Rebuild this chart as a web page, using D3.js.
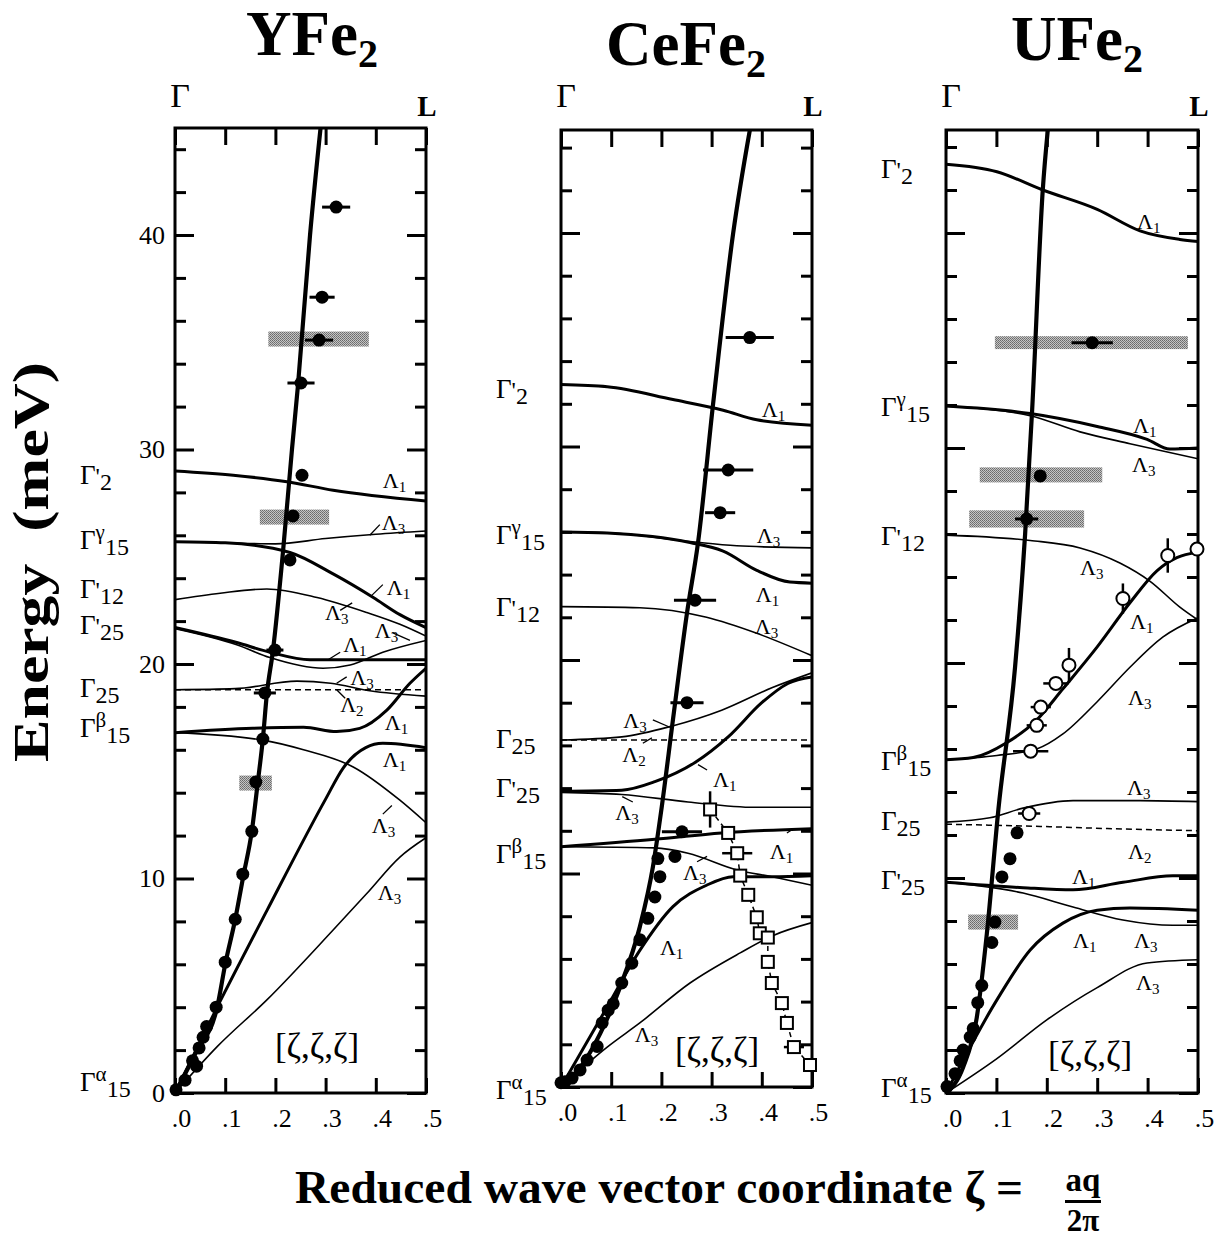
<!DOCTYPE html>
<html lang="en">
<head>
<meta charset="UTF-8">
<title>Phonon dispersion: YFe2, CeFe2, UFe2</title>
<script src="https://d3js.org/d3.v7.min.js"></script>
<style>
  body { margin: 0; background: #fff; }
  svg text { font-family: "Liberation Serif", "Times New Roman", serif; fill: #000; }
</style>
</head>
<body>
<div id="chart"></div>
<script>
// ---- axis values ----
const compounds = ["YFe2", "CeFe2", "UFe2"];
const zetaTicks = [0, 0.1, 0.2, 0.3, 0.4, 0.5];
const zetaTickLabels = [".0", ".1", ".2", ".3", ".4", ".5"];
const energyMajorTicks = [0, 10, 20, 30, 40];
const energyMinorTicks = [2, 4, 6, 8, 12, 14, 16, 18, 22, 24, 26, 28, 32, 34, 36, 38, 42, 44];

// ---- YFe2 ----
const yfe2Sound = [[0,0],[0.042,1.9],[0.084,4.0],[0.10,6.0],[0.12,8.1],[0.136,10.1],[0.153,12.2],[0.165,14.5],
  [0.175,16.5],[0.183,18.6],[0.195,20.6],[0.215,25.2],[0.233,30],[0.245,33],[0.269,40],[0.29,45]];
const yfe2Branches = [
  { sym: "1", pts: [[0,29.0],[0.116,28.8],[0.223,28.5],[0.315,28.1],[0.5,27.6]] },
  { sym: "3", pts: [[0,25.7],[0.1,25.65],[0.2,25.6],[0.3,25.85],[0.4,26.05],[0.5,26.2]] },
  { sym: "1", pts: [[0,25.7],[0.1,25.65],[0.229,25.2],[0.315,24.2],[0.395,23.1],[0.448,22.3],[0.5,21.7]] },
  { sym: "3", pts: [[0,23.0],[0.09,23.3],[0.183,23.5],[0.283,23.1],[0.382,22.4],[0.448,21.85],[0.5,21.3]] },
  { sym: "1", pts: [[0,21.7],[0.123,21.0],[0.189,20.55],[0.269,20.2],[0.388,20.2],[0.5,20.2]] },
  { sym: "3", pts: [[0,21.65],[0.123,20.9],[0.189,20.3],[0.295,19.8],[0.349,19.95],[0.414,20.55],[0.5,21.1]] },
  { sym: "3", pts: [[0,18.8],[0.12,18.85],[0.243,19.2],[0.31,19.1],[0.388,18.75],[0.5,18.5]] },
  { sym: "2", pts: [[0,18.8],[0.5,18.8]] },
  { sym: "1", pts: [[0,16.8],[0.155,17.0],[0.256,17.05],[0.322,16.85],[0.368,17.0],[0.422,17.85],[0.468,19.1],[0.5,19.8]] },
  { sym: "3", pts: [[0,16.8],[0.175,16.45],[0.256,16.0],[0.355,15.2],[0.448,13.65],[0.5,12.6]] },
  { sym: "1", pts: [[0,0],[0.084,4.0],[0.183,8.5],[0.30,13.7],[0.335,15.15],[0.38,16.1],[0.414,16.3],[0.5,16.1]] },
  { sym: "3", pts: [[0,0],[0.084,2.16],[0.183,4.34],[0.315,7.6],[0.382,9.3],[0.448,11.0],[0.5,11.9]] }
];
// [zeta, E, zeta error]
const yfe2Dots = [[0.002,0.15,0],[0.02,0.6,0],[0.035,1.5,0],[0.043,1.25,0],[0.048,2.1,0],[0.056,2.6,0],[0.063,3.1,0],
  [0.082,4.0,0],[0.10,6.1,0],[0.12,8.1,0],[0.135,10.2,0],[0.153,12.2,0],[0.161,14.5,0],[0.175,16.5,0],
  [0.179,18.65,0.022],[0.199,20.65,0.017],[0.229,24.85,0],[0.235,26.9,0],[0.253,28.8,0],[0.251,33.1,0.027],
  [0.287,35.1,0.028],[0.293,37.1,0.025],[0.321,41.3,0.028]];
// [zeta from, zeta to, E low, E high]
const yfe2Bands = [[0.169,0.307,26.5,27.2],[0.186,0.386,34.8,35.5],[0.128,0.193,14.1,14.8]];
const yfe2Gammas = [{sup:"'",sub:"2",E:28.8},{sup:"γ",sub:"15",E:25.8},{sup:"'",sub:"12",E:23.5},{sup:"'",sub:"25",E:21.8},
  {sup:"",sub:"25",E:18.9},{sup:"β",sub:"15",E:17.0},{sup:"α",sub:"15",E:0.5}];
const yfe2Lambdas = [
  {sub:"1", at:[0.414,28.2]},
  {sub:"3", at:[0.412,26.25], hook:[[0.388,26.0],[0.408,26.5]]},
  {sub:"1", at:[0.422,23.2], hook:[[0.392,23.2],[0.414,23.7]]},
  {sub:"3", at:[0.299,22.05], hook:[[0.329,22.5],[0.353,22.85]]},
  {sub:"3", at:[0.398,21.2], hook:[[0.434,21.45],[0.468,21.1]]},
  {sub:"1", at:[0.335,20.55], hook:[[0.305,20.2],[0.329,20.55]]},
  {sub:"3", at:[0.349,19.0], hook:[[0.322,19.1],[0.342,19.4]]},
  {sub:"2", at:[0.329,17.75], hook:[[0.322,18.8],[0.339,18.4]]},
  {sub:"1", at:[0.418,16.9]},
  {sub:"1", at:[0.414,15.2]},
  {sub:"3", at:[0.392,12.1], hook:[[0.432,13.4],[0.414,13.0]]},
  {sub:"3", at:[0.404,9.0]}
];

// ---- CeFe2 ----
const cefe2Sound = [[0,0],[0.038,0.9],[0.078,2.5],[0.118,4.7],[0.157,7.5],[0.183,10.3],[0.2,13.0],[0.223,17.2],
  [0.251,22.2],[0.273,25.5],[0.303,32.0],[0.343,40.0],[0.376,44.8]];
const cefe2Branches = [
  { sym: "1", pts: [[0,32.9],[0.092,32.8],[0.223,32.2],[0.323,31.7],[0.39,31.25],[0.5,31.0]] },
  { sym: "1", pts: [[0,26.0],[0.092,25.95],[0.257,25.5],[0.323,25.1],[0.39,24.2],[0.456,23.65],[0.5,23.6]] },
  { sym: "3", pts: [[0,26.0],[0.1,25.95],[0.257,25.55],[0.35,25.35],[0.5,25.25]] },
  { sym: "3", pts: [[0,22.5],[0.157,22.45],[0.29,22.0],[0.39,21.25],[0.5,20.2]] },
  { sym: "3", pts: [[0,16.25],[0.121,16.4],[0.22,16.9],[0.32,17.65],[0.42,18.7],[0.5,19.4]] },
  { sym: "2", pts: [[0,16.25],[0.5,16.25]] },
  { sym: "1", pts: [[0,13.85],[0.121,13.9],[0.187,14.3],[0.267,15.2],[0.333,16.4],[0.4,18.0],[0.452,18.9],[0.5,19.2]] },
  { sym: "3", pts: [[0,13.8],[0.121,13.7],[0.253,13.35],[0.386,13.1],[0.5,13.1]] },
  { sym: "1", pts: [[0,11.25],[0.187,11.6],[0.32,11.9],[0.5,12.1]] },
  { sym: "3", pts: [[0,11.25],[0.187,11.2],[0.253,10.95],[0.353,10.15],[0.42,9.85],[0.5,9.45]] },
  { sym: "1", pts: [[0,0],[0.092,3.75],[0.157,6.4],[0.223,8.45],[0.29,9.45],[0.343,9.85],[0.42,9.85],[0.5,9.9]] },
  { sym: "3", pts: [[0,0],[0.092,1.87],[0.157,3.0],[0.257,4.87],[0.357,6.28],[0.423,7.1],[0.5,7.7]] }
];
const cefe2Dots = [[0.376,35.1,0.048],[0.333,28.9,0.05],[0.317,26.9,0.03],[0.267,22.8,0.042],[0.251,18.0,0.033],
  [0.241,11.95,0.04],[0.193,10.7,0],[0.227,10.8,0],[0.197,9.85,0],[0.187,8.9,0],[0.173,7.9,0],[0.157,6.9,0],
  [0.141,5.8,0],[0.121,4.87,0],[0.104,3.9,0],[0.094,3.6,0],[0.082,3.0,0],[0.072,1.9,0],[0.052,1.26,0],
  [0.038,0.8,0],[0.022,0.42,0],[0.008,0.25,0],[0,0.2,0]];
// [zeta, E, zeta error, E error]
const cefe2Squares = [[0.297,13.0,0,0.85],[0.333,11.9,0,0],[0.351,10.95,0.03,0],[0.357,9.9,0,0],[0.373,9.0,0,0],
  [0.39,7.95,0,0],[0.396,7.2,0,0],[0.412,7.0,0,0],[0.412,5.86,0,0],[0.42,4.87,0,0],[0.44,3.93,0,0],
  [0.45,3.0,0,0],[0.464,1.87,0.02,0],[0.496,1.03,0,0]];
const cefe2Gammas = [{sup:"'",sub:"2",E:32.7},{sup:"γ",sub:"15",E:25.85},{sup:"'",sub:"12",E:22.5},{sup:"",sub:"25",E:16.3},
  {sup:"'",sub:"25",E:14.0},{sup:"β",sub:"15",E:10.9},{sup:"α",sub:"15",E:-0.15}];
const cefe2Lambdas = [
  {sub:"1", at:[0.4,31.4]},
  {sub:"3", at:[0.39,25.5]},
  {sub:"1", at:[0.388,22.7]},
  {sub:"3", at:[0.386,21.2]},
  {sub:"3", at:[0.124,16.8], hook:[[0.183,17.2],[0.217,16.85]]},
  {sub:"2", at:[0.122,15.2], hook:[[0.163,16.1],[0.181,16.35]]},
  {sub:"1", at:[0.303,14.05], hook:[[0.273,15.1],[0.291,14.85]]},
  {sub:"3", at:[0.108,12.5], hook:[[0.122,13.6],[0.143,13.35]]},
  {sub:"1", at:[0.416,10.7], hook:[[0.45,11.9],[0.46,12.05]]},
  {sub:"3", at:[0.243,9.7], hook:[[0.271,10.55],[0.291,10.8]]},
  {sub:"1", at:[0.197,6.2]},
  {sub:"3", at:[0.147,2.1]}
];

// ---- UFe2 ----
const ufe2Sound = [[0,0],[0.034,1.2],[0.061,3.5],[0.081,7.4],[0.104,13.2],[0.137,19.8],[0.157,26],[0.171,31.8],
  [0.192,42],[0.202,44.8]];
const ufe2Branches = [
  { sym: "1", pts: [[0,43.2],[0.101,42.85],[0.192,42.0],[0.3,41.1],[0.385,40.1],[0.464,39.7],[0.5,39.6]] },
  { sym: "1", pts: [[0,31.95],[0.167,31.6],[0.3,31.0],[0.399,30.4],[0.444,29.95],[0.5,30.0]] },
  { sym: "3", pts: [[0,31.95],[0.167,31.5],[0.266,30.75],[0.365,30.2],[0.5,29.5]] },
  { sym: "3", pts: [[0,25.95],[0.167,25.7],[0.266,25.35],[0.345,24.65],[0.405,23.8],[0.464,22.6],[0.5,22.0]] },
  { sym: "1", pts: [[0,15.5],[0.054,15.6],[0.121,16.3],[0.18,17.35],[0.232,18.8],[0.3,20.75],[0.365,22.8],[0.419,24.3],[0.458,24.9],[0.5,25.15]] },
  { sym: "3", pts: [[0,15.5],[0.101,15.7],[0.18,16.0],[0.232,16.7],[0.3,18.2],[0.365,19.8],[0.43,21.2],[0.5,22.1]] },
  { sym: "3", pts: [[0,12.6],[0.087,12.8],[0.153,13.25],[0.252,13.6],[0.385,13.6],[0.5,13.55]] },
  { sym: "2", pts: [[0,12.5],[0.187,12.4],[0.32,12.3],[0.5,12.2]] },
  { sym: "1", pts: [[0,9.8],[0.153,9.55],[0.252,9.45],[0.351,9.8],[0.45,10.1],[0.5,10.1]] },
  { sym: "3", pts: [[0,9.8],[0.153,9.3],[0.252,8.65],[0.351,8.05],[0.45,7.8],[0.5,7.8]] },
  { sym: "1", pts: [[0,0],[0.101,4.33],[0.167,6.65],[0.232,7.9],[0.3,8.5],[0.365,8.6],[0.5,8.5]] },
  { sym: "3", pts: [[0,0],[0.101,1.6],[0.2,3.4],[0.3,4.9],[0.399,6.05],[0.5,6.2]] }
];
const ufe2Dots = [[0.29,34.9,0.041],[0.187,28.7,0],[0.16,26.7,0.023],[0.141,12.1,0],[0.127,10.9,0],[0.111,10.05,0],
  [0.097,7.95,0],[0.091,7.0,0],[0.071,5.0,0],[0.063,4.2,0],[0.054,3.0,0],[0.048,2.6,0],[0.034,2.0,0],
  [0.028,1.5,0],[0.018,0.9,0],[0.002,0.3,0]];
const ufe2Circles = [[0.498,25.3,0,0],[0.44,25.0,0,0.8],[0.351,23.0,0,0.7],[0.244,19.9,0,0.8],[0.218,19.05,0.025,0],
  [0.188,17.95,0.02,0],[0.18,17.1,0.02,0],[0.168,15.9,0.035,0],[0.165,13.0,0.022,0]];
const ufe2Bands = [[0.097,0.48,34.6,35.2],[0.067,0.31,28.4,29.1],[0.046,0.274,26.3,27.1],[0.044,0.143,7.6,8.3]];
const ufe2Gammas = [{sup:"'",sub:"2",E:43.0},{sup:"γ",sub:"15",E:31.9},{sup:"'",sub:"12",E:25.9},{sup:"β",sub:"15",E:15.45},
  {sup:"",sub:"25",E:12.65},{sup:"'",sub:"25",E:9.9},{sup:"α",sub:"15",E:0.25}];
const ufe2Lambdas = [
  {sub:"1", at:[0.379,40.2]},
  {sub:"1", at:[0.371,30.7]},
  {sub:"3", at:[0.369,28.9]},
  {sub:"3", at:[0.266,24.1]},
  {sub:"1", at:[0.365,21.6]},
  {sub:"3", at:[0.361,18.05]},
  {sub:"3", at:[0.359,13.85]},
  {sub:"2", at:[0.361,10.9]},
  {sub:"1", at:[0.25,9.7]},
  {sub:"1", at:[0.252,6.75]},
  {sub:"3", at:[0.373,6.75]},
  {sub:"3", at:[0.377,4.8]}
];

// ---- layout ----
const width = 1225, height = 1241;
const panels = [
  { name: compounds[0], x0: 175, x1: 426, yBot: 1093, yTop: 128, k: 21.45, titleX: 312, titleY: 55, gammaX: 80,
    numbers: true, bracket: [0.283, 1.63],
    sound: yfe2Sound, branches: yfe2Branches, dots: yfe2Dots, bands: yfe2Bands, gammas: yfe2Gammas, lambdas: yfe2Lambdas },
  { name: compounds[1], x0: 561, x1: 812, yBot: 1087, yTop: 130, k: 21.35, titleX: 686, titleY: 65, gammaX: 496,
    numbers: false, bracket: [0.311, 1.17],
    sound: cefe2Sound, branches: cefe2Branches, dots: cefe2Dots, bands: [], gammas: cefe2Gammas, lambdas: cefe2Lambdas,
    squares: cefe2Squares },
  { name: compounds[2], x0: 946, x1: 1198, yBot: 1093, yTop: 130, k: 21.5, titleX: 1077, titleY: 60, gammaX: 881,
    numbers: false, bracket: [0.286, 1.26],
    sound: ufe2Sound, branches: ufe2Branches, dots: ufe2Dots, bands: ufe2Bands, gammas: ufe2Gammas, lambdas: ufe2Lambdas,
    circles: ufe2Circles }
];
// Λ1 solid heavy, Λ3 solid light, Λ2 dashed
const branchStyle = { "1": { w: 3, dash: null }, "2": { w: 1.5, dash: "6,4" }, "3": { w: 1.6, dash: null } };

const svg = d3.select("#chart").append("svg").attr("width", width).attr("height", height);
const defs = svg.append("defs");

// stippled gray used for the resolution bands
const pat = defs.append("pattern").attr("id", "stipple").attr("width", 2).attr("height", 2)
  .attr("patternUnits", "userSpaceOnUse");
pat.append("rect").attr("width", 2).attr("height", 2).attr("fill", "#c4c4c4");
pat.append("rect").attr("width", 1).attr("height", 1).attr("fill", "#6a6a6a");
pat.append("rect").attr("x", 1).attr("y", 1).attr("width", 1).attr("height", 1).attr("fill", "#7a7a7a");

panels.forEach((p, i) => {
  const x = d3.scaleLinear().domain([0, 0.5]).range([p.x0, p.x1]);
  const y = d3.scaleLinear().domain([0, 45]).range([p.yBot, p.yBot - 45 * p.k]);
  const line = d3.line().x(d => x(d[0])).y(d => y(d[1])).curve(d3.curveMonotoneX);
  const g = svg.append("g").attr("class", "panel");

  defs.append("clipPath").attr("id", "clip" + i).append("rect")
    .attr("x", p.x0).attr("y", p.yTop).attr("width", p.x1 - p.x0).attr("height", p.yBot - p.yTop);

  // bands
  g.selectAll("rect.band").data(p.bands).join("rect").attr("class", "band")
    .attr("x", d => x(d[0])).attr("width", d => x(d[1]) - x(d[0]))
    .attr("y", d => y(d[3])).attr("height", d => y(d[2]) - y(d[3]))
    .attr("fill", "url(#stipple)");

  // calculated branches
  const curves = g.append("g").attr("clip-path", `url(#clip${i})`);
  curves.selectAll("path.branch").data(p.branches).join("path").attr("class", "branch")
    .attr("d", d => line(d.pts))
    .attr("fill", "none").attr("stroke", "#000")
    .attr("stroke-width", d => branchStyle[d.sym].w)
    .attr("stroke-dasharray", d => branchStyle[d.sym].dash);
  curves.append("path").attr("d", line(p.sound))
    .attr("fill", "none").attr("stroke", "#000").attr("stroke-width", 4.2);

  // frame and ticks
  const ax = g.append("g").attr("class", "ticks");
  ax.append("g").attr("transform", `translate(${p.x0},0)`)
    .call(d3.axisLeft(y).tickValues(energyMinorTicks).tickSize(-11).tickFormat(""));
  ax.append("g").attr("transform", `translate(${p.x0},0)`)
    .call(d3.axisLeft(y).tickValues(energyMajorTicks).tickSize(-19).tickPadding(10)
      .tickFormat(p.numbers ? d3.format("d") : ""));
  ax.append("g").attr("transform", `translate(${p.x1},0)`)
    .call(d3.axisRight(y).tickValues(energyMinorTicks).tickSize(-11).tickFormat(""));
  ax.append("g").attr("transform", `translate(${p.x1},0)`)
    .call(d3.axisRight(y).tickValues(energyMajorTicks).tickSize(-19).tickFormat(""));
  ax.append("g").attr("transform", `translate(0,${p.yTop})`)
    .call(d3.axisTop(x).tickValues(zetaTicks).tickSize(-17).tickFormat(""));
  const bottom = ax.append("g").attr("transform", `translate(0,${p.yBot})`)
    .call(d3.axisBottom(x).tickValues(zetaTicks).tickSize(-15).tickPadding(16)
      .tickFormat((d, j) => zetaTickLabels[j]));
  ax.selectAll(".domain").remove();
  ax.selectAll("line").attr("stroke", "#000").attr("stroke-width", 3);
  ax.selectAll("text").attr("font-size", 26).attr("fill", "#000");
  bottom.selectAll("text").attr("dx", 6);
  g.append("rect").attr("x", p.x0).attr("y", p.yTop).attr("width", p.x1 - p.x0).attr("height", p.yBot - p.yTop)
    .attr("fill", "none").attr("stroke", "#000").attr("stroke-width", 3);

  // labels of zone-centre modes
  const gl = g.selectAll("text.gamma").data(p.gammas).join("text").attr("class", "gamma")
    .attr("x", p.gammaX).attr("y", d => y(d.E) + 9).attr("font-size", 27);
  gl.append("tspan").text("Γ");
  gl.filter(d => d.sup === "'").append("tspan").text("'").attr("font-size", 24);
  gl.filter(d => d.sup && d.sup !== "'").append("tspan").text(d => d.sup).attr("font-size", 21).attr("dy", -10);
  gl.append("tspan").text(d => d.sub).attr("font-size", 24).attr("dy", d => (d.sup && d.sup !== "'") ? 16 : 6);

  // Λ labels along ΓL
  const ll = g.selectAll("text.lam").data(p.lambdas).join("text").attr("class", "lam")
    .attr("x", d => x(d.at[0])).attr("y", d => y(d.at[1])).attr("font-size", 22);
  ll.append("tspan").text("Λ");
  ll.append("tspan").text(d => d.sub).attr("font-size", 15).attr("dy", 4);
  const hook = d3.line().x(d => x(d[0])).y(d => y(d[1]));
  g.selectAll("path.hook").data(p.lambdas.filter(d => d.hook)).join("path").attr("class", "hook")
    .attr("d", d => hook(d.hook)).attr("fill", "none").attr("stroke", "#000").attr("stroke-width", 1.3);

  // measured points
  g.selectAll("line.xerr").data(p.dots.filter(d => d[2] > 0)).join("line").attr("class", "xerr")
    .attr("x1", d => x(d[0] - d[2])).attr("x2", d => x(d[0] + d[2]))
    .attr("y1", d => y(d[1])).attr("y2", d => y(d[1]))
    .attr("stroke", "#000").attr("stroke-width", 3);
  g.selectAll("circle.dot").data(p.dots).join("circle").attr("class", "dot")
    .attr("cx", d => x(d[0])).attr("cy", d => y(d[1])).attr("r", 6.5).attr("fill", "#000");

  const open = p.squares || p.circles;
  if (open) {
    if (p.squares) {
      g.append("path").attr("d", d3.line().x(d => x(d[0])).y(d => y(d[1]))(open))
        .attr("fill", "none").attr("stroke", "#000").attr("stroke-width", 1.5).attr("stroke-dasharray", "5,4");
    }
    g.selectAll("line.oxerr").data(open.filter(d => d[2] > 0)).join("line").attr("class", "oxerr")
      .attr("x1", d => x(d[0] - d[2])).attr("x2", d => x(d[0] + d[2]))
      .attr("y1", d => y(d[1])).attr("y2", d => y(d[1]))
      .attr("stroke", "#000").attr("stroke-width", 2.5);
    g.selectAll("line.oyerr").data(open.filter(d => d[3] > 0)).join("line").attr("class", "oyerr")
      .attr("x1", d => x(d[0])).attr("x2", d => x(d[0]))
      .attr("y1", d => y(d[1] - d[3])).attr("y2", d => y(d[1] + d[3]))
      .attr("stroke", "#000").attr("stroke-width", 2.5);
    if (p.squares) {
      g.selectAll("rect.sq").data(open).join("rect").attr("class", "sq")
        .attr("x", d => x(d[0]) - 6).attr("y", d => y(d[1]) - 6).attr("width", 12).attr("height", 12)
        .attr("fill", "#fff").attr("stroke", "#000").attr("stroke-width", 2);
    } else {
      g.selectAll("circle.oc").data(open).join("circle").attr("class", "oc")
        .attr("cx", d => x(d[0])).attr("cy", d => y(d[1])).attr("r", 6.5)
        .attr("fill", "#fff").attr("stroke", "#000").attr("stroke-width", 2);
    }
  }

  // [ζ,ζ,ζ] direction tag
  g.append("text").attr("x", x(p.bracket[0])).attr("y", y(p.bracket[1]))
    .attr("text-anchor", "middle").attr("font-size", 35).text("[ζ,ζ,ζ]");

  // Γ and L at the ends of the path
  g.append("text").attr("x", p.x0 + 5).attr("y", 107).attr("text-anchor", "middle").attr("font-size", 34).text("Γ");
  g.append("text").attr("x", p.x1 + 1).attr("y", 116).attr("text-anchor", "middle").attr("font-size", 29)
    .attr("font-weight", "bold").text("L");

  // compound title
  const t = g.append("text").attr("x", p.titleX).attr("y", p.titleY).attr("text-anchor", "middle")
    .attr("font-size", 63).attr("font-weight", "bold");
  t.append("tspan").text(p.name.slice(0, -1));
  t.append("tspan").text(p.name.slice(-1)).attr("font-size", 40).attr("dy", 12);
});

// axis titles
svg.append("text").attr("transform", "translate(48,562) rotate(-90)")
  .attr("text-anchor", "middle").attr("font-size", 50).attr("font-weight", "bold")
  .attr("textLength", 400).attr("lengthAdjust", "spacingAndGlyphs")
  .style("white-space", "pre").text("Energy  (meV)");

svg.append("text").attr("x", 295).attr("y", 1203).attr("font-size", 47).attr("font-weight", "bold")
  .attr("textLength", 728).attr("lengthAdjust", "spacingAndGlyphs")
  .text("Reduced wave vector coordinate ζ =");
// ζ = aq / 2π as a stacked fraction
svg.append("text").attr("x", 1083).attr("y", 1191).attr("text-anchor", "middle")
  .attr("font-size", 33).attr("font-weight", "bold").text("aq");
svg.append("line").attr("x1", 1065).attr("x2", 1101).attr("y1", 1201.5).attr("y2", 1201.5)
  .attr("stroke", "#000").attr("stroke-width", 3);
svg.append("text").attr("x", 1083).attr("y", 1231).attr("text-anchor", "middle")
  .attr("font-size", 31).attr("font-weight", "bold").text("2π");
</script>
</body>
</html>
